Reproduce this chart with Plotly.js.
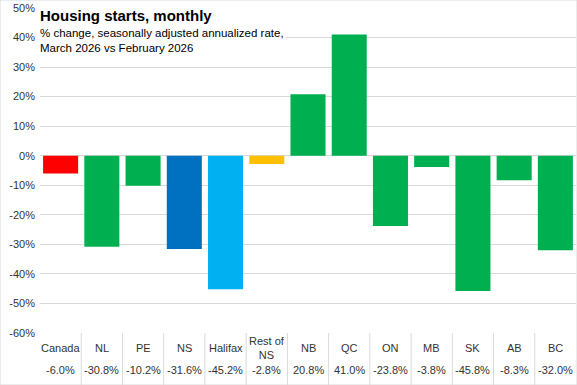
<!DOCTYPE html>
<html><head><meta charset="utf-8">
<script src="https://cdn.plot.ly/plotly-3.0.1.min.js"></script>
<style>html,body{margin:0;padding:0;background:#fff}#chart{width:577px;height:385px}</style>
</head><body><div id="chart"></div>
<script>
const categories = ["Canada","NL","PE","NS","Halifax","Rest of<br>NS","NB","QC","ON","MB","SK","AB","BC"];
const values = [-6.0,-30.8,-10.2,-31.6,-45.2,-2.8,20.8,41.0,-23.8,-3.8,-45.8,-8.3,-32.0];
const colors = ["#FF0000","#00B050","#00B050","#0070C0","#00B0F0","#FFC000","#00B050","#00B050","#00B050","#00B050","#00B050","#00B050","#00B050"];
const yTicks = [-60,-50,-40,-30,-20,-10,0,10,20,30,40,50];

const font = "Liberation Sans, Arial, sans-serif";
const xIdx = categories.map((c,i)=>i);

const annotations = [];
categories.forEach((c,i)=>{
  annotations.push({x:i, xref:'x', y:0, yref:'paper', yshift:-15, yanchor:'middle', xanchor:'center',
    text:c, showarrow:false, font:{family:font, size:11, color:'#333'}});
  annotations.push({x:i, xref:'x', y:0, yref:'paper', yshift:-37, yanchor:'middle', xanchor:'center',
    text:values[i].toFixed(1)+'%', showarrow:false, font:{family:font, size:11, color:'#333'}});
});
annotations.push({x:40, xref:'paper', y:0, yref:'paper', showarrow:false, text:'', visible:false});
annotations.pop();
annotations.push({xref:'paper', yref:'paper', x:0, y:1, xanchor:'left', yanchor:'top', yshift:3, xshift:-2,
  text:'<b>Housing starts, monthly</b>', showarrow:false, bgcolor:'#fff', borderpad:1,
  font:{family:font, size:15, color:'#000'}});
annotations.push({xref:'paper', yref:'paper', x:0, y:1, xanchor:'left', yanchor:'top', yshift:-17, xshift:-2,
  text:'% change, seasonally adjusted annualized rate,<br>March 2026 vs February 2026', align:'left', showarrow:false, bgcolor:'#fff', borderpad:1,
  font:{family:font, size:11.5, color:'#000'}});

const shapes = [];
for (let i=0;i<categories.length-1;i++){
  shapes.push({type:'line', xref:'x', yref:'paper', x0:i+0.5, x1:i+0.5, y0:0, y1:-0.17,
    line:{color:'#d9d9d9', width:1}});
}
shapes.push({type:'rect', xref:'paper', yref:'paper', x0:-40/536, x1:1+1/536, y0:-52/325, y1:1+8/325,
  line:{color:'#d9d9d9', width:1}, fillcolor:'rgba(0,0,0,0)'});

Plotly.newPlot('chart', [{
  type:'bar', x:xIdx, y:values, marker:{color:colors}, hoverinfo:'none'
}], {
  width:577, height:385,
  margin:{l:40, r:1, t:8, b:52},
  paper_bgcolor:'#fff', plot_bgcolor:'#fff',
  bargap:0.15,
  showlegend:false,
  xaxis:{range:[-0.5,12.5], showticklabels:false, showgrid:false, zeroline:false, fixedrange:true},
  yaxis:{range:[-60,50], tickvals:yTicks, ticktext:yTicks.map(v=>v+'%'), gridcolor:'#d9d9d9', gridwidth:1,
    zeroline:false, tickfont:{family:font, size:11, color:'#333'}, ticks:'', ticklabelstandoff:4},
  annotations:annotations, shapes:shapes
}, {staticPlot:true, displayModeBar:false});
</script></body></html>
